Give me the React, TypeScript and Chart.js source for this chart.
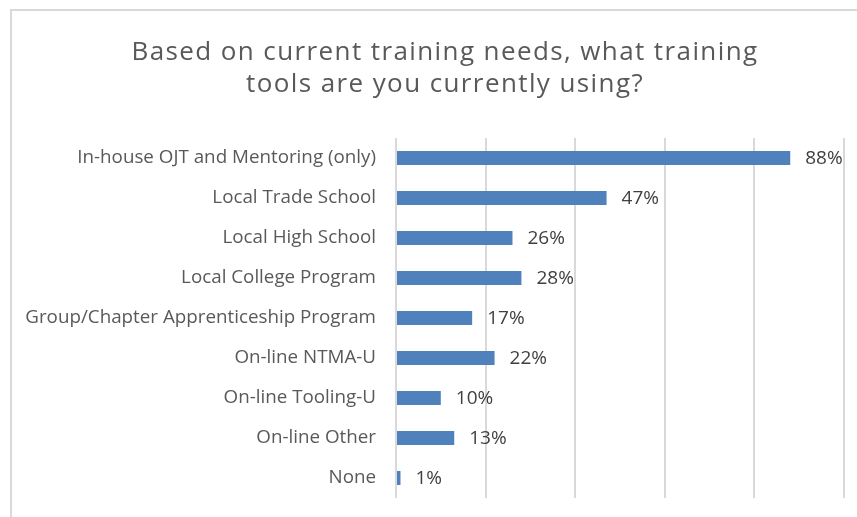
import React, { useEffect, useRef } from "react";
import { Chart, registerables } from "chart.js";

Chart.register(...registerables);

const TITLE_LINES = [
  "Based on current training needs, what training",
  "tools are you currently using?",
];

const CATEGORIES = [
  "In-house OJT and Mentoring (only)",
  "Local Trade School",
  "Local High School",
  "Local College Program",
  "Group/Chapter Apprenticeship Program",
  "On-line NTMA-U",
  "On-line Tooling-U",
  "On-line Other",
  "None",
];

const VALUES = [88, 47, 26, 28, 17, 22, 10, 13, 1];

const X_MIN = 0;
const X_MAX = 100;
const X_STEP = 20;

const FONT_FAMILY = "'Open Sans', 'Noto Sans', sans-serif";

const framePlugin = {
  id: "frame",
  beforeDraw(chart: any) {
    const ctx = chart.ctx;
    ctx.save();
    ctx.fillStyle = "#ffffff";
    ctx.fillRect(0, 0, chart.width, chart.height);
    ctx.fillStyle = "#d9d9d9";
    ctx.fillRect(10, 9, chart.width - 10, 2);
    ctx.fillRect(10, 9, 2, chart.height - 9);
    ctx.restore();
  },
};

const titlePlugin = {
  id: "customTitle",
  afterDraw(chart: any) {
    const ctx = chart.ctx;
    ctx.save();
    ctx.fillStyle = "#595959";
    ctx.font = `26px ${FONT_FAMILY}`;
    try {
      (ctx as any).letterSpacing = "1.4px";
    } catch (e) {}
    ctx.textAlign = "center";
    ctx.textBaseline = "alphabetic";
    const baselines = [60, 92];
    TITLE_LINES.forEach((line, i) => {
      ctx.fillText(line, 445, baselines[i]);
    });
    ctx.restore();
  },
};

const valueLabelPlugin = {
  id: "valueLabels",
  afterDatasetsDraw(chart: any) {
    const ctx = chart.ctx;
    const meta = chart.getDatasetMeta(0);
    ctx.save();
    ctx.fillStyle = "#404040";
    ctx.font = `19px ${FONT_FAMILY}`;
    ctx.textAlign = "left";
    ctx.textBaseline = "middle";
    meta.data.forEach((bar: any, i: number) => {
      ctx.fillText(`${VALUES[i]}%`, bar.x + 15, bar.y + 1);
    });
    ctx.restore();
  },
};

export default function App() {
  const canvasRef = useRef<HTMLCanvasElement | null>(null);

  useEffect(() => {
    if (!canvasRef.current) return;
    const chart = new Chart(canvasRef.current, {
      type: "bar",
      data: {
        labels: CATEGORIES,
        datasets: [
          {
            data: VALUES,
            backgroundColor: "#4f81bd",
            borderWidth: 0,
            barPercentage: 0.35,
            categoryPercentage: 1,
          },
        ],
      },
      options: {
        indexAxis: "y",
        animation: false,
        responsive: false,
        devicePixelRatio: 1,
        layout: {
          padding: { top: 138, bottom: 19, left: 0, right: 13 },
        },
        plugins: {
          legend: { display: false },
          title: { display: false },
          tooltip: { enabled: false },
        },
        scales: {
          x: {
            min: X_MIN,
            max: X_MAX,
            ticks: { stepSize: X_STEP, display: false },
            grid: {
              color: "#d9d9d9",
              lineWidth: 2,
              drawTicks: false,
            },
            border: { display: false },
            afterFit(scale: any) {
              scale.height = 0;
              scale.paddingLeft = 0;
              scale.paddingRight = 0;
            },
          },
          y: {
            grid: { display: false, drawTicks: false },
            border: { display: false },
            ticks: {
              color: "#595959",
              padding: 20,
              font: { family: FONT_FAMILY, size: 18.8 },
            },
            afterFit(scale: any) {
              scale.width = 396;
              scale.paddingTop = 0;
              scale.paddingBottom = 0;
            },
          },
        },
      },
      plugins: [framePlugin, titlePlugin, valueLabelPlugin],
    });
    return () => chart.destroy();
  }, []);

  return (
    <div style={{ position: "fixed", left: 0, top: 0, width: 857, height: 517, background: "#fff" }}>
      <canvas ref={canvasRef} width={857} height={517} style={{ width: 857, height: 517, display: "block" }} />
    </div>
  );
}
